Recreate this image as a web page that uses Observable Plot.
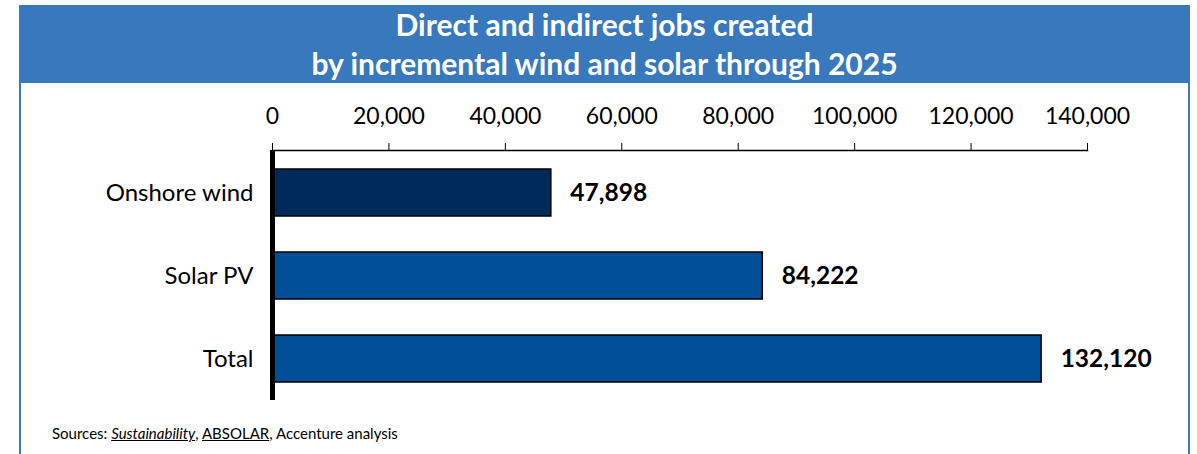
<!DOCTYPE html>
<html>
<head>
<meta charset="utf-8">
<script src="https://cdn.jsdelivr.net/npm/d3@7"></script>
<script src="https://cdn.jsdelivr.net/npm/@observablehq/plot@0.6"></script>
<style>
  body { margin: 0; background: #fff; font-family: Lato, "Open Sans", sans-serif; }
  #page { position: relative; width: 1197px; height: 454px; overflow: hidden; }
  #frame { position: absolute; left: 19px; top: 5px; width: 1167px; height: 460px;
           border: 2px solid #3a79bf; border-bottom: none; }
  #title { position: absolute; left: 19px; top: 5px; width: 1171px; height: 78px;
           background: #3878bd; color: #fff; font-weight: bold; font-size: 30px;
           line-height: 39px; text-align: center; padding-top: 0px; box-sizing: border-box; }
  #chart { position: absolute; left: 0; top: 83px; }
  #caption { position: absolute; left: 52px; top: 424px; font-size: 15px; color: #000; }
  #caption .u { text-decoration: underline; }
</style>
</head>
<body>
<div id="page">
  <div id="frame"></div>
  <div id="title">Direct and indirect jobs created<br>by incremental wind and solar through 2025</div>
  <div id="chart"></div>
  <div id="caption">Sources: <span class="u"><i>Sustainability</i></span>, <span class="u">ABSOLAR</span>, Accenture analysis</div>
</div>
<script>
const categories = ["Onshore wind", "Solar PV", "Total"];
const values = [47898, 84222, 132120];
const colors = ["#002a5c", "#004f98", "#004f98"];
const xTicks = [0, 20000, 40000, 60000, 80000, 100000, 120000, 140000];

const data = categories.map((c, i) => ({category: c, value: values[i], color: colors[i]}));

const chart = Plot.plot({
  width: 1197,
  height: 330,
  marginTop: 67,
  marginBottom: 13,
  marginLeft: 272,
  marginRight: 110,
  style: {fontFamily: "Lato, 'Open Sans', sans-serif", fontSize: "24px", color: "#000", background: "transparent"},
  x: {domain: [0, 140000], axis: null, label: null},
  y: {domain: categories, paddingInner: 0.436, paddingOuter: 0.218, axis: null, label: null},
  marks: [
    Plot.axisX({anchor: "top", ticks: xTicks, tickFormat: d3.format(","), tickSize: 8, tickPadding: 19, fontSize: 23, stroke: "#000", label: null}),
    Plot.frame({anchor: "top", stroke: "#000", strokeWidth: 1.5}),
    Plot.axisY({anchor: "left", tickSize: 0, tickPadding: 19, fontSize: 24, label: null}),
    Plot.barX(data, {y: "category", x: "value", fill: "color", stroke: "#000", strokeWidth: 1.5}),
    Plot.ruleX([0], {stroke: "#000", strokeWidth: 5}),
    Plot.text(data, {y: "category", x: "value", text: d => d3.format(",")(d.value), dx: 19, textAnchor: "start", fontWeight: "bold", fontSize: 24.5})
  ]
});
document.getElementById("chart").appendChild(chart);
</script>
</body>
</html>
